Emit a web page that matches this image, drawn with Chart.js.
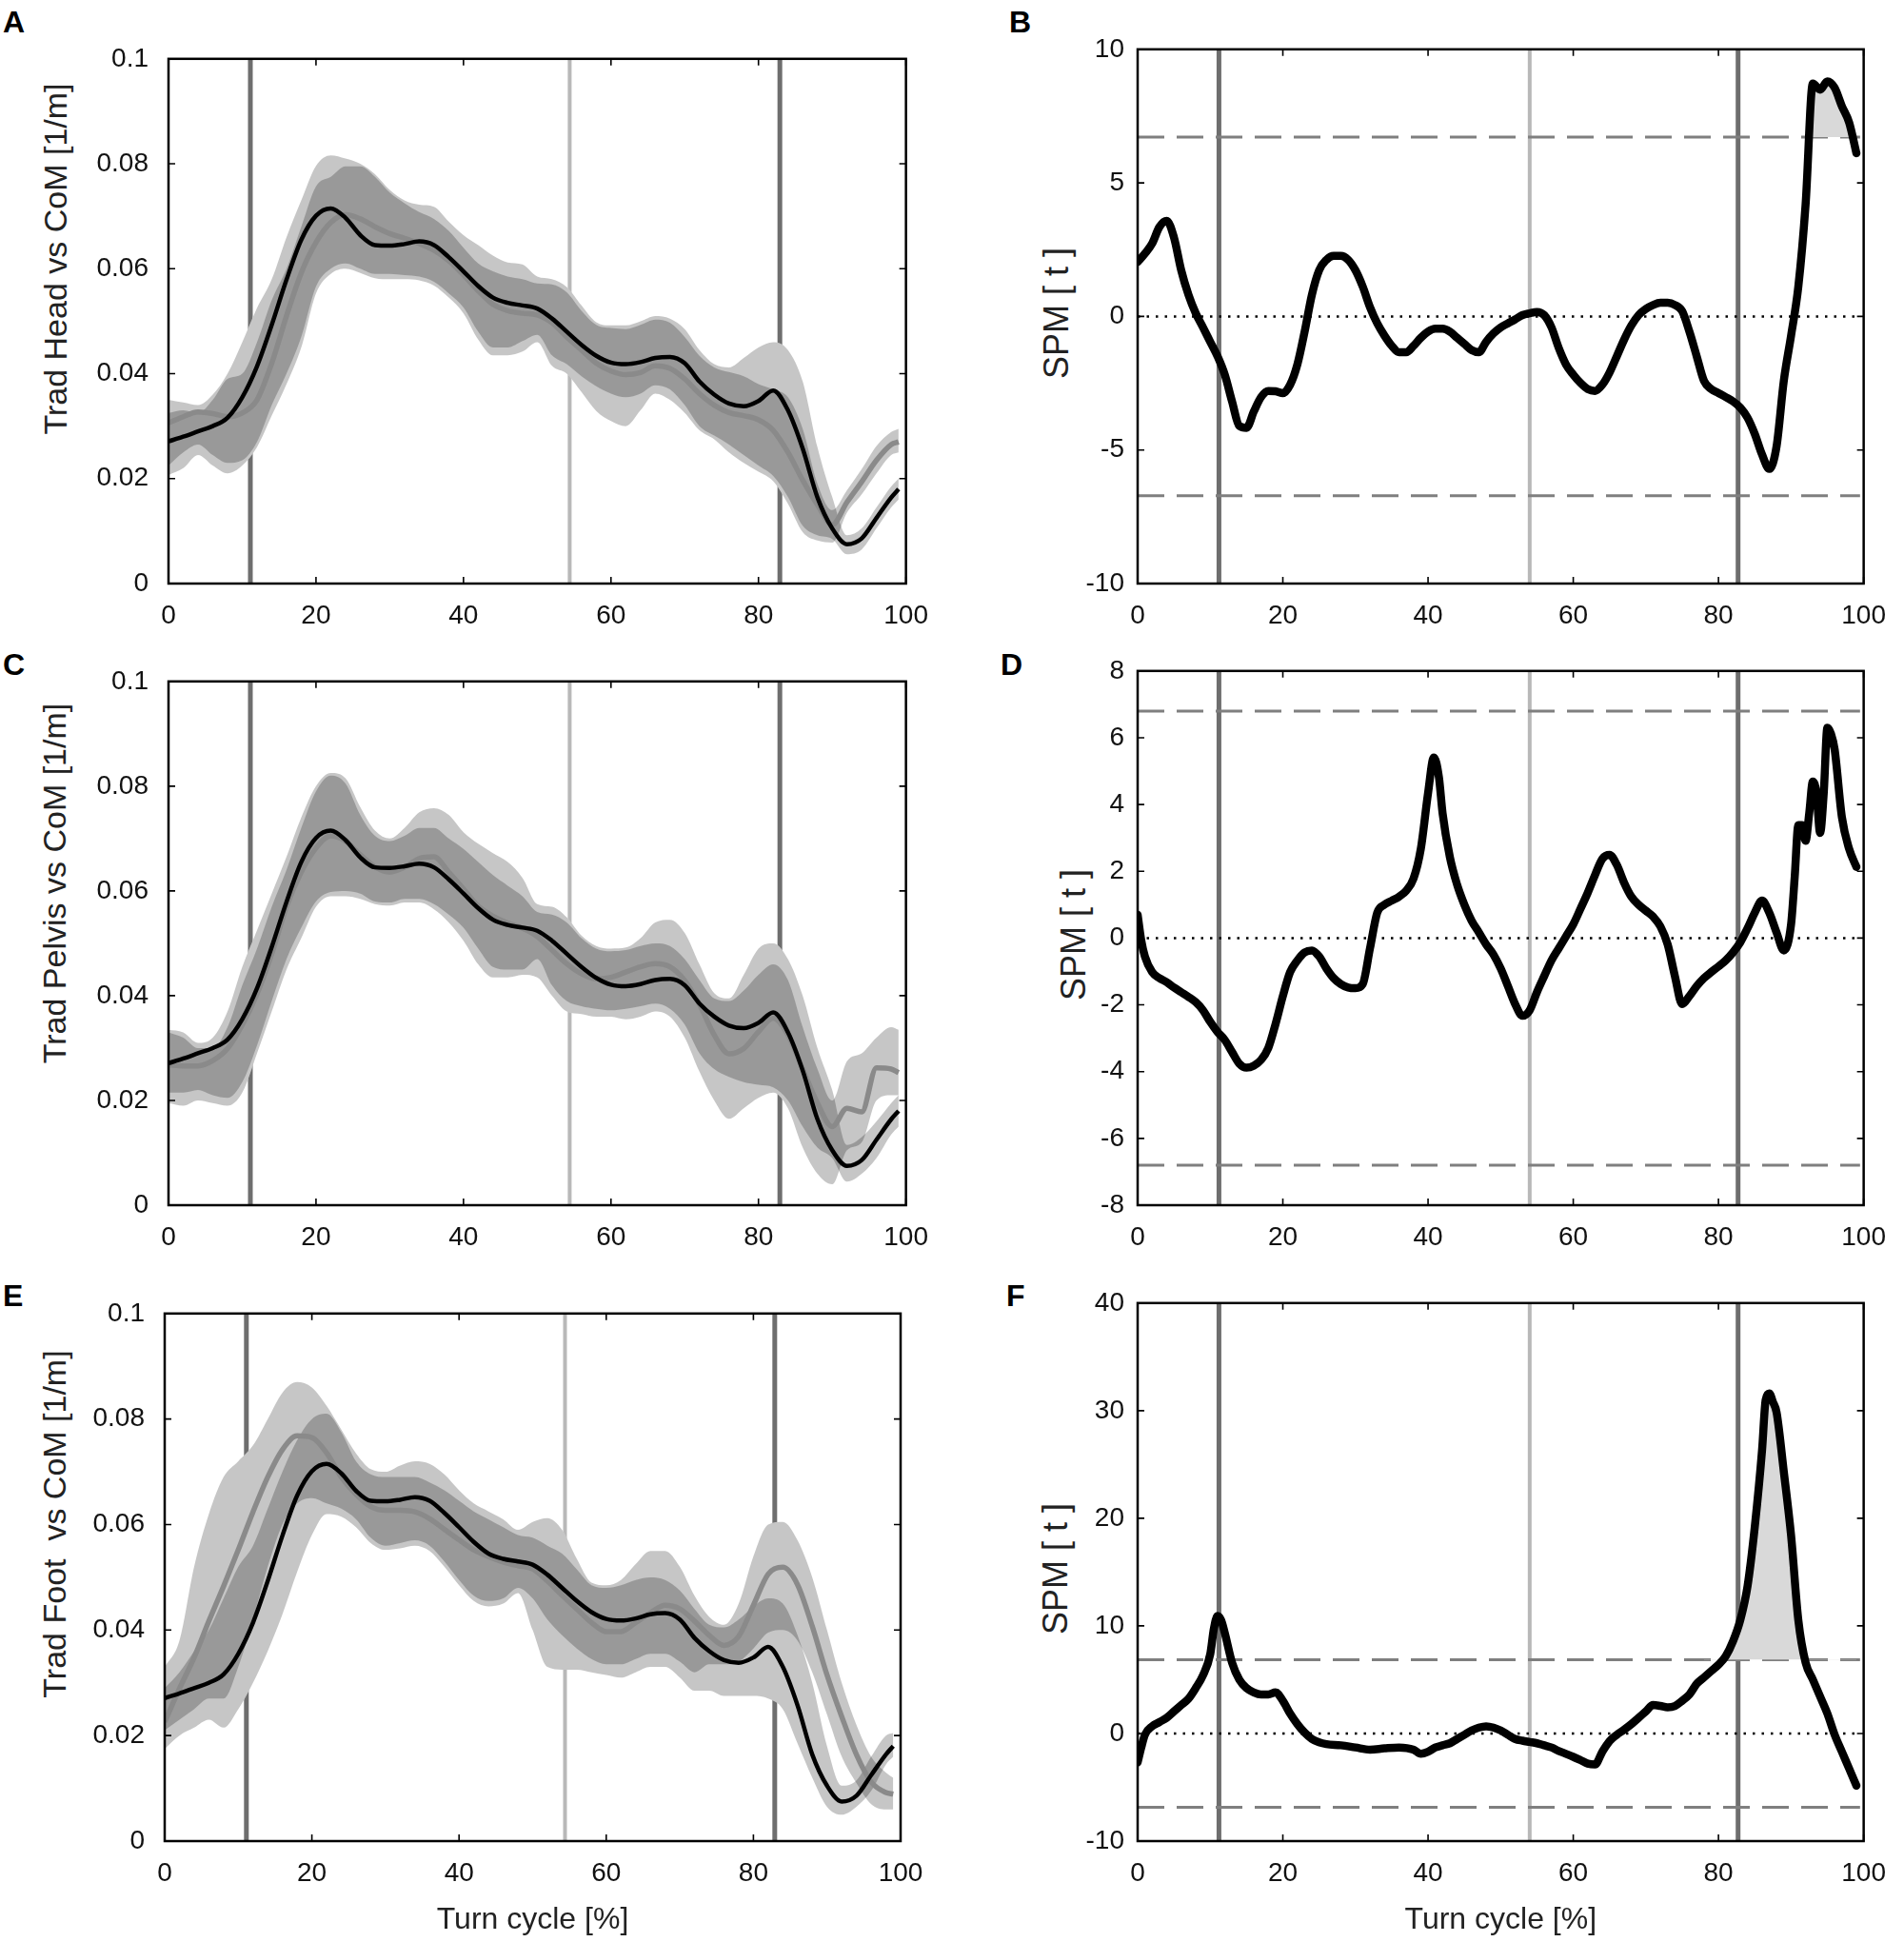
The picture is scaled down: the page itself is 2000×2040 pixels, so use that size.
<!DOCTYPE html>
<html>
<head>
<meta charset="utf-8">
<script src="https://cdn.jsdelivr.net/npm/chart.js@4.4.1/dist/chart.umd.min.js"></script>
<style>
  html, body { margin:0; padding:0; background:#fff; }
  body { width:2000px; height:2040px; position:relative; overflow:hidden; font-family:'Liberation Sans', Arial, sans-serif; }
  canvas { position:absolute; }
  .tag { position:absolute; font:bold 32px 'Liberation Sans', Arial, sans-serif; line-height:1; color:#000; }
  .yt { position:absolute; transform:translate(-50%,-50%) rotate(-90deg); white-space:pre; line-height:1; color:#222; }
</style>
</head>
<body>
<div class="tag" style="left:3px;top:7px">A</div>
<div class="tag" style="left:1060px;top:7px">B</div>
<div class="tag" style="left:3px;top:682px">C</div>
<div class="tag" style="left:1051px;top:682px">D</div>
<div class="tag" style="left:3px;top:1345px">E</div>
<div class="tag" style="left:1057px;top:1345px">F</div>

<div class="yt" style="left:58px;top:272px;font-size:34px">Trad Head vs CoM [1/m]</div>
<div class="yt" style="left:57px;top:928px;font-size:34px">Trad Pelvis vs CoM [1/m]</div>
<div class="yt" style="left:57px;top:1601px;font-size:34px">Trad Foot  vs CoM [1/m]</div>
<div class="yt" style="left:1110px;top:329px;font-size:36px">SPM [ t ]</div>
<div class="yt" style="left:1128px;top:982px;font-size:36px">SPM [ t ]</div>
<div class="yt" style="left:1109px;top:1648px;font-size:36px">SPM [ t ]</div>

<script>
// ---------- data ----------
const turnPct = [0,2,4,6,8,10,12,14,16,18,20,22,24,26,28,30,32,34,36,38,40,42,44,46,48,
  50,52,54,56,58,60,62,64,66,68,70,72,74,76,78,80,82,84,86,88,90,92,94,96,98,99];

// black mean curve (same in A, C, E)
const refMean = [
  .0271,.0280,.0290,.0300,.0316,.0355,.0414,.0493,.0579,.0655,
  .0701,.0715,.0697,.0664,.0645,.0644,.0647,.0652,.0645,.0622,
  .0595,.0567,.0545,.0535,.0530,.0524,.0505,.0480,.0455,.0434,
  .0421,.0418,.0422,.0430,.0432,.0420,.0385,.0360,.0343,.0338,
  .0348,.0368,.0330,.0257,.0164,.0105,.0075,.0086,.0125,.0164,
  .0180];

// A - head
const headMean = [
  .0306,.0318,.0327,.0324,.0318,.0325,.0350,.0420,.0510,.0592,
  .0650,.0688,.0703,.0695,.0680,.0667,.0658,.0648,.0635,.0615,
  .0588,.0558,.0532,.0520,.0515,.0512,.0497,.0470,.0445,.0420,
  .0405,.0398,.0402,.0415,.0410,.0390,.0362,.0340,.0326,.0320,
  .0312,.0292,.0250,.0197,.0150,.0112,.0155,.0194,.0235,.0265,
  .0270];
const headRefHi = [
  .0350,.0345,.0340,.0360,.0400,.0460,.0525,.0580,.0660,.0730,
  .0796,.0816,.0810,.0800,.0780,.0750,.0730,.0722,.0718,.0690,
  .0664,.0645,.0625,.0612,.0608,.0585,.0580,.0565,.0530,.0498,
  .0492,.0492,.0500,.0510,.0505,.0485,.0445,.0418,.0412,.0430,
  .0450,.0460,.0445,.0385,.0260,.0165,.0092,.0105,.0145,.0185,
  .0200];
const headRefLo = [
  .0225,.0250,.0265,.0245,.0230,.0235,.0270,.0340,.0400,.0470,
  .0566,.0600,.0610,.0600,.0590,.0590,.0588,.0585,.0575,.0553,
  .0526,.0480,.0450,.0450,.0462,.0474,.0435,.0418,.0395,.0376,
  .0362,.0355,.0362,.0378,.0370,.0340,.0300,.0282,.0265,.0245,
  .0225,.0205,.0165,.0110,.0092,.0085,.0056,.0065,.0105,.0145,
  .0160];
const headGrayHi = [
  .0325,.0330,.0325,.0350,.0390,.0400,.0460,.0540,.0600,.0680,
  .0757,.0775,.0795,.0795,.0775,.0745,.0725,.0708,.0695,.0672,
  .0640,.0610,.0595,.0585,.0580,.0572,.0570,.0555,.0520,.0493,
  .0487,.0485,.0493,.0503,.0497,.0470,.0434,.0412,.0403,.0395,
  .0380,.0370,.0355,.0295,.0190,.0140,.0178,.0218,.0262,.0289,
  .0295];
const headGrayLo = [
  .0207,.0220,.0245,.0225,.0210,.0225,.0260,.0320,.0380,.0450,
  .0553,.0590,.0600,.0592,.0582,.0580,.0580,.0578,.0568,.0545,
  .0515,.0465,.0435,.0435,.0442,.0460,.0415,.0400,.0365,.0329,
  .0310,.0300,.0330,.0362,.0350,.0325,.0292,.0275,.0250,.0230,
  .0213,.0195,.0152,.0098,.0082,.0078,.0135,.0170,.0210,.0245,
  .0250];

// C - pelvis
const pelvisMean = [
  .0268,.0266,.0266,.0276,.0299,.0344,.0403,.0480,.0570,.0636,
  .0682,.0705,.0695,.0669,.0646,.0636,.0645,.0662,.0665,.0636,
  .0604,.0571,.0552,.0539,.0529,.0513,.0487,.0461,.0442,.0432,
  .0435,.0445,.0455,.0461,.0455,.0429,.0383,.0325,.0289,.0299,
  .0331,.0357,.0325,.0260,.0195,.0150,.0185,.0178,.0262,.0260,
  .0253];
const pelvisRefHi = [
  .0335,.0330,.0310,.0320,.0370,.0455,.0525,.0595,.0665,.0740,
  .0800,.0825,.0815,.0760,.0715,.0700,.0720,.0750,.0758,.0745,
  .0712,.0690,.0672,.0655,.0625,.0575,.0570,.0550,.0515,.0495,
  .0490,.0492,.0510,.0540,.0545,.0520,.0460,.0405,.0395,.0440,
  .0490,.0500,.0470,.0400,.0300,.0220,.0115,.0130,.0160,.0195,
  .0210];
const pelvisRefLo = [
  .0215,.0215,.0220,.0210,.0205,.0235,.0305,.0390,.0470,.0530,
  .0580,.0598,.0600,.0595,.0580,.0578,.0585,.0585,.0575,.0555,
  .0530,.0490,.0455,.0450,.0450,.0470,.0420,.0390,.0380,.0375,
  .0372,.0375,.0380,.0385,.0375,.0345,.0290,.0260,.0245,.0235,
  .0230,.0225,.0200,.0150,.0110,.0090,.0045,.0060,.0090,.0135,
  .0150];
const pelvisGrayHi = [
  .0330,.0320,.0300,.0300,.0340,.0420,.0490,.0570,.0640,.0720,
  .0790,.0820,.0805,.0745,.0705,.0695,.0705,.0720,.0720,.0700,
  .0680,.0655,.0630,.0610,.0590,.0560,.0555,.0540,.0510,.0490,
  .0485,.0487,.0495,.0500,.0495,.0470,.0430,.0395,.0390,.0410,
  .0440,.0460,.0430,.0340,.0260,.0200,.0275,.0290,.0320,.0340,
  .0335];
const pelvisGrayLo = [
  .0195,.0190,.0200,.0195,.0190,.0215,.0290,.0370,.0450,.0510,
  .0570,.0590,.0590,.0585,.0575,.0572,.0578,.0578,.0565,.0540,
  .0505,.0460,.0435,.0435,.0440,.0435,.0400,.0370,.0365,.0360,
  .0360,.0355,.0360,.0370,.0360,.0320,.0255,.0200,.0165,.0185,
  .0205,.0215,.0185,.0110,.0060,.0040,.0105,.0120,.0200,.0210,
  .0210];

// E - foot
const footMean = [
  .0226,.0289,.0348,.0417,.0483,.0552,.0624,.0690,.0742,.0768,
  .0765,.0736,.0690,.0657,.0634,.0627,.0627,.0624,.0611,.0591,
  .0571,.0552,.0539,.0529,.0522,.0516,.0493,.0466,.0440,.0414,
  .0397,.0397,.0414,.0433,.0447,.0440,.0417,.0390,.0371,.0388,
  .0447,.0506,.0519,.0486,.0407,.0315,.0236,.0164,.0112,.0092,
  .0089];
const footRefHi = [
  .0290,.0320,.0360,.0400,.0460,.0520,.0560,.0630,.0700,.0760,
  .0800,.0810,.0775,.0720,.0695,.0690,.0690,.0690,.0680,.0665,
  .0645,.0625,.0610,.0595,.0580,.0575,.0560,.0545,.0515,.0485,
  .0480,.0485,.0495,.0500,.0495,.0475,.0440,.0410,.0405,.0420,
  .0445,.0460,.0450,.0390,.0300,.0180,.0105,.0115,.0160,.0200,
  .0205];
const footRefLo = [
  .0175,.0200,.0215,.0230,.0215,.0250,.0300,.0360,.0430,.0510,
  .0580,.0620,.0615,.0595,.0565,.0552,.0555,.0560,.0550,.0520,
  .0485,.0455,.0445,.0450,.0470,.0400,.0330,.0325,.0325,.0320,
  .0315,.0310,.0320,.0330,.0330,.0310,.0285,.0285,.0275,.0275,
  .0275,.0270,.0250,.0185,.0120,.0065,.0050,.0065,.0095,.0145,
  .0160];
const footGrayHi = [
  .0330,.0380,.0520,.0620,.0690,.0720,.0750,.0800,.0850,.0870,
  .0860,.0825,.0780,.0735,.0705,.0700,.0712,.0720,.0715,.0695,
  .0665,.0640,.0625,.0610,.0590,.0605,.0612,.0590,.0535,.0490,
  .0485,.0495,.0525,.0550,.0550,.0520,.0465,.0425,.0410,.0450,
  .0540,.0600,.0605,.0570,.0500,.0400,.0300,.0220,.0160,.0130,
  .0120];
const footGrayLo = [
  .0210,.0230,.0250,.0270,.0270,.0330,.0420,.0520,.0600,.0640,
  .0650,.0640,.0630,.0610,.0575,.0560,.0565,.0570,.0560,.0530,
  .0495,.0465,.0455,.0460,.0480,.0460,.0420,.0390,.0365,.0345,
  .0335,.0335,.0345,.0355,.0355,.0340,.0320,.0335,.0335,.0340,
  .0365,.0395,.0400,.0380,.0320,.0240,.0160,.0110,.0070,.0060,
  .0060];

// B - SPM head
const spmHeadX = [
  0,1,2,3,4,5,6,7,8,9, 10,11,12,13,14,15,16,17,18,19,
  20,21,22,23,24,25,26,27,28,29, 30,31,32,33,34,35,36,37,38,39,
  40,41,42,43,44,45,46,47,48,49, 50,51,52,53,54,55,56,57,58,59,
  60,61,62,63,64,65,66,67,68,69, 70,71,72,73,74,75,76,77,78,79,
  80,81,82,83,84,85,86,87,88,89, 90,91,92,93,94,95,96,97,98,99];
const spmHeadT = [
  2.04,2.35,2.73,3.35,3.58,2.96,1.73,0.81,0.12,-0.41,
  -0.95,-1.49,-2.18,-3.18,-4.10,-4.17,-3.56,-3.02,-2.79,-2.80,
  -2.87,-2.56,-1.80,-0.57,0.81,1.73,2.12,2.27,2.27,2.12,
  1.73,1.12,0.35,-0.26,-0.72,-1.10,-1.34,-1.34,-1.10,-0.80,
  -0.57,-0.46,-0.46,-0.57,-0.80,-1.03,-1.26,-1.34,-0.95,-0.64,
  -0.41,-0.26,-0.11,0.05,0.12,0.17,0.05,-0.41,-1.18,-1.80,
  -2.18,-2.49,-2.72,-2.79,-2.56,-2.10,-1.49,-0.87,-0.34,0.05,
  0.28,0.43,0.51,0.51,0.43,0.20,-0.57,-1.49,-2.41,-2.72,
  -2.87,-3.02,-3.18,-3.41,-3.79,-4.40,-5.17,-5.71,-4.87,-2.41,
  -0.72,1.12,4.19,8.72,8.49,8.80,8.56,7.87,7.26,6.11];
const spmHeadThr = 6.71;
const spmHeadClusterFrom = 90;

// D - SPM pelvis
const spmPelvisX = [0,0.5,1,2,3,4,5,6,7,8,9,10,11,12,13,14,15,16,17,18,19,20,21,22,23,24,25,26,27,28,29,
  30,31,32,33,34,35,36,37,38,39,40,40.8,41.5,42,43,44,45,46,47,48,49,50,51,52,53,54,55,56,57,58,59,
  60,61,62,63,64,65,66,67,68,69,70,71,72,73,74,75,76,77,78,79,80,81,82,83,84,85,86,87,88,89,90,
  90.5,91,91.5,92,92.5,93,93.5,94,94.5,95,95.5,96,97,98,99];
const spmPelvisT = [0.70,-0.07,-0.55,-1.02,-1.20,-1.32,-1.48,-1.62,-1.76,-1.92,-2.16,-2.51,-2.81,-3.05,-3.41,-3.76,
  -3.88,-3.82,-3.65,-3.29,-2.57,-1.74,-1.02,-0.67,-0.43,-0.37,-0.55,-0.91,-1.20,-1.38,-1.48,
  -1.50,-1.38,-0.31,0.76,1.00,1.12,1.24,1.42,1.78,2.67,4.34,5.41,4.81,3.74,2.43,1.60,1.00,0.52,0.17,-0.19,-0.49,
  -0.91,-1.44,-1.98,-2.33,-2.16,-1.62,-1.14,-0.67,-0.31,0.05,
  0.41,0.88,1.36,1.89,2.37,2.49,2.19,1.66,1.24,1.00,0.82,0.64,0.35,-0.19,-1.14,-1.98,-1.74,-1.44,-1.20,-1.02,
  -0.85,-0.67,-0.43,-0.13,0.29,0.76,1.12,0.76,0.17,-0.37,0.41,
  1.83,3.38,3.38,2.91,3.74,4.69,4.34,3.15,4.34,6.30,6.12,5.65,3.62,2.67,2.13];
const spmPelvisThr = 6.8;

// F - SPM foot
const spmFootX = [0,0.5,1,2,3,4,5,6,7,8,9,10,10.5,11,11.5,12,13,14,15,16,17,18,19,20,21,22,23,24,25,26,
  28,30,32,34,36,38,39,40,41,42,43,44,45,46,47,48,49,50,51,52,53,54,55,56,57,58,59,60,61,62,63,64,65,66,
  67,68,69,70,71,72,73,74,75,76,77,78,79,80,81,82,83,84,85,86,86.5,87,87.5,88,89,90,91,92,93,94,95,96,97,98,99];
const spmFootT = [-2.68,-1.30,-0.12,0.67,1.06,1.46,2.05,2.64,3.23,4.22,5.40,7.37,9.74,10.92,10.53,9.35,6.59,5.01,
  4.22,3.82,3.63,3.63,3.82,3.04,1.85,0.87,0.08,-0.51,-0.83,-0.99,
  -1.10,-1.30,-1.50,-1.38,-1.30,-1.50,-1.89,-1.70,-1.30,-1.10,-0.91,-0.51,-0.12,0.28,0.55,0.67,0.55,0.28,-0.12,
  -0.51,-0.67,-0.79,-0.91,-1.10,-1.30,-1.62,-1.89,-2.17,-2.48,-2.80,-2.88,-1.70,-0.71,-0.12,
  0.35,0.87,1.46,2.05,2.64,2.56,2.44,2.56,3.04,3.63,4.61,5.21,5.80,6.39,7.18,8.56,10.53,13.68,19.20,26.30,
  31.00,31.60,30.80,29.85,24.33,18.41,10.53,6.59,5.01,3.43,1.85,-0.12,-1.70,-3.27,-4.85];
const spmFootThr = 6.85;
const spmFootClusterFrom = 78;

// event markers (% of turn cycle)
const leftEvents = [11.1, 54.4, 82.9];
const rightEvents = [11.2, 54.0, 82.7];

// axis ticks
const xTicks = [0, 20, 40, 60, 80, 100];
const curvTicks = [0, 0.02, 0.04, 0.06, 0.08, 0.1];
const spmHeadTicks = [-10, -5, 0, 5, 10];
const spmPelvisTicks = [-8, -6, -4, -2, 0, 2, 4, 6, 8];
const spmFootTicks = [-10, 0, 10, 20, 30, 40];

// ---------- styling ----------
const FONT = "'Liberation Sans', Arial, sans-serif";
const BAND = 'rgba(0,0,0,0.225)';
const EVENT_STYLE = [
  { color:'#6e6e6e', width:5 },
  { color:'#b8b8b8', width:4 },
  { color:'#6e6e6e', width:5 }
];

const fmt = v => String(Math.round(v * 1000) / 1000);
const pts = (xs, ys) => xs.map((x, i) => ({ x, y: ys[i] }));

// MATLAB-style box with inward ticks on all four sides
const matlabBox = {
  id: 'matlabBox',
  afterDraw(chart) {
    const { ctx, chartArea: a } = chart;
    const xs = chart.scales.x, ys = chart.scales.y;
    const len = 7;
    ctx.save();
    ctx.strokeStyle = '#000';
    ctx.lineWidth = 1.6;
    ctx.beginPath();
    xs.ticks.forEach(t => {
      const p = xs.getPixelForValue(t.value);
      ctx.moveTo(p, a.bottom); ctx.lineTo(p, a.bottom - len);
      ctx.moveTo(p, a.top); ctx.lineTo(p, a.top + len);
    });
    ys.ticks.forEach(t => {
      const p = ys.getPixelForValue(t.value);
      ctx.moveTo(a.left, p); ctx.lineTo(a.left + len, p);
      ctx.moveTo(a.right, p); ctx.lineTo(a.right - len, p);
    });
    ctx.stroke();
    ctx.lineWidth = 2.5;
    ctx.strokeRect(a.left, a.top, a.right - a.left, a.bottom - a.top);
    ctx.restore();
  }
};

function eventDatasets(events, yMin, yMax, order) {
  return events.map((e, i) => ({
    data: [{ x: e, y: yMin }, { x: e, y: yMax }],
    borderColor: EVENT_STYLE[i].color, borderWidth: EVENT_STYLE[i].width,
    borderCapStyle: 'butt', order
  }));
}

function makeChart(box, datasets, yTickVals, yMin, yMax) {
  const cv = document.createElement('canvas');
  cv.width = box.w; cv.height = box.h;
  cv.style.left = box.left + 'px'; cv.style.top = box.top + 'px';
  document.body.appendChild(cv);
  return new Chart(cv.getContext('2d'), {
    type: 'line',
    data: { datasets },
    options: {
      responsive: false, animation: false, devicePixelRatio: 1,
      layout: { padding: { top: box.padTop, right: box.padRight, left: 0, bottom: 0 } },
      elements: { point: { radius: 0 }, line: { cubicInterpolationMode: 'monotone' } },
      plugins: { legend: { display: false }, tooltip: { enabled: false } },
      scales: {
        x: {
          type: 'linear', min: 0, max: 100,
          afterBuildTicks: s => { s.ticks = xTicks.map(v => ({ value: v })); },
          afterFit: s => { s.height = box.xAxisH; },
          grid: { display: false, drawTicks: false }, border: { display: false },
          ticks: { padding: 17, color: '#111', font: { family: FONT, size: 28 }, maxRotation: 0, autoSkip: false, callback: fmt },
          title: box.xTitle
            ? { display: true, text: 'Turn cycle [%]', color: '#222', font: { family: FONT, size: 32 }, padding: { top: 0, bottom: 4 } }
            : { display: false }
        },
        y: {
          type: 'linear', min: yMin, max: yMax,
          afterBuildTicks: s => { s.ticks = yTickVals.map(v => ({ value: v })); },
          afterFit: s => { s.width = box.yAxisW; },
          grid: { display: false, drawTicks: false }, border: { display: false },
          ticks: { padding: box.yPad, color: '#111', font: { family: FONT, size: 28 }, autoSkip: false, callback: fmt }
        }
      }
    },
    plugins: [matlabBox]
  });
}

function curvaturePanel(box, grayMean, refHi, refLo, grayHi, grayLo) {
  const unionHi = refHi.map((v, i) => Math.max(v, grayHi[i]));
  const unionLo = refLo.map((v, i) => Math.min(v, grayLo[i]));
  const ds = [
    { data: pts(turnPct, refMean), borderColor: '#000', borderWidth: 4.5, order: 1 },         // 0
    { data: pts(turnPct, grayMean), borderColor: '#8a8a8a', borderWidth: 5.5, order: 2 },     // 1
    { data: pts(turnPct, refHi), borderWidth: 0, fill: 3, backgroundColor: BAND, order: 4 },  // 2
    { data: pts(turnPct, refLo), borderWidth: 0, order: 5 },                                  // 3
    { data: pts(turnPct, grayHi), borderWidth: 0, fill: 5, backgroundColor: BAND, order: 6 }, // 4
    { data: pts(turnPct, grayLo), borderWidth: 0, order: 7 },                                 // 5
    { data: pts(turnPct, unionHi), borderWidth: 0, fill: 7, backgroundColor: '#fff', order: 8 }, // 6
    { data: pts(turnPct, unionLo), borderWidth: 0, order: 9 },                                // 7
    ...eventDatasets(leftEvents, 0, 0.1, 10)
  ];
  return makeChart(box, ds, curvTicks, 0, 0.1);
}

function spmPanel(box, xs, ts, thr, clusterFrom, yTickVals, yMin, yMax) {
  const curve = pts(xs, ts);
  const ds = [
    { data: curve, borderColor: '#000', borderWidth: 8.5, borderJoinStyle: 'round', borderCapStyle: 'round', order: 1 },
    { data: [{ x: 0, y: thr }, { x: 99.5, y: thr }], borderColor: '#7f7f7f', borderWidth: 3, borderDash: [28, 13], order: 3 },
    { data: [{ x: 0, y: -thr }, { x: 99.5, y: -thr }], borderColor: '#7f7f7f', borderWidth: 3, borderDash: [28, 13], order: 3 },
    { data: [{ x: 0, y: 0 }, { x: 99, y: 0 }], borderColor: '#000', borderWidth: 2.5, borderDash: [2.5, 7], order: 4 },
    ...eventDatasets(rightEvents, yMin, yMax, 5)
  ];
  if (clusterFrom != null) {
    ds.push({
      data: curve.filter(p => p.x >= clusterFrom), borderWidth: 0,
      fill: { target: { value: thr }, above: '#d9d9d9', below: 'rgba(0,0,0,0)' }, order: 2
    });
  }
  return makeChart(box, ds, yTickVals, yMin, yMax);
}

curvaturePanel({ left: 0, top: 24, w: 992, h: 656, padTop: 24, padRight: 40, yAxisW: 177, xAxisH: 67, yPad: 21 },
  headMean, headRefHi, headRefLo, headGrayHi, headGrayLo);
curvaturePanel({ left: 0, top: 678, w: 992, h: 662, padTop: 24, padRight: 40, yAxisW: 177, xAxisH: 74, yPad: 21 },
  pelvisMean, pelvisRefHi, pelvisRefLo, pelvisGrayHi, pelvisGrayLo);
curvaturePanel({ left: 0, top: 1342, w: 992, h: 698, padTop: 24, padRight: 46, yAxisW: 173, xAxisH: 106, yPad: 21, xTitle: true },
  footMean, footRefHi, footRefLo, footGrayHi, footGrayLo);

spmPanel({ left: 1000, top: 21, w: 998, h: 659, padTop: 24, padRight: 30, yAxisW: 195, xAxisH: 67, yPad: 14 },
  spmHeadX, spmHeadT, spmHeadThr, spmHeadClusterFrom, spmHeadTicks, -10, 10);
spmPanel({ left: 1000, top: 674, w: 998, h: 666, padTop: 24, padRight: 30, yAxisW: 195, xAxisH: 74, yPad: 14 },
  spmPelvisX, spmPelvisT, spmPelvisThr, null, spmPelvisTicks, -8, 8);
spmPanel({ left: 1000, top: 1338, w: 998, h: 702, padTop: 24, padRight: 30, yAxisW: 195, xAxisH: 106, yPad: 14, xTitle: true },
  spmFootX, spmFootT, spmFootThr, spmFootClusterFrom, spmFootTicks, -10, 40);
</script>
</body>
</html>
